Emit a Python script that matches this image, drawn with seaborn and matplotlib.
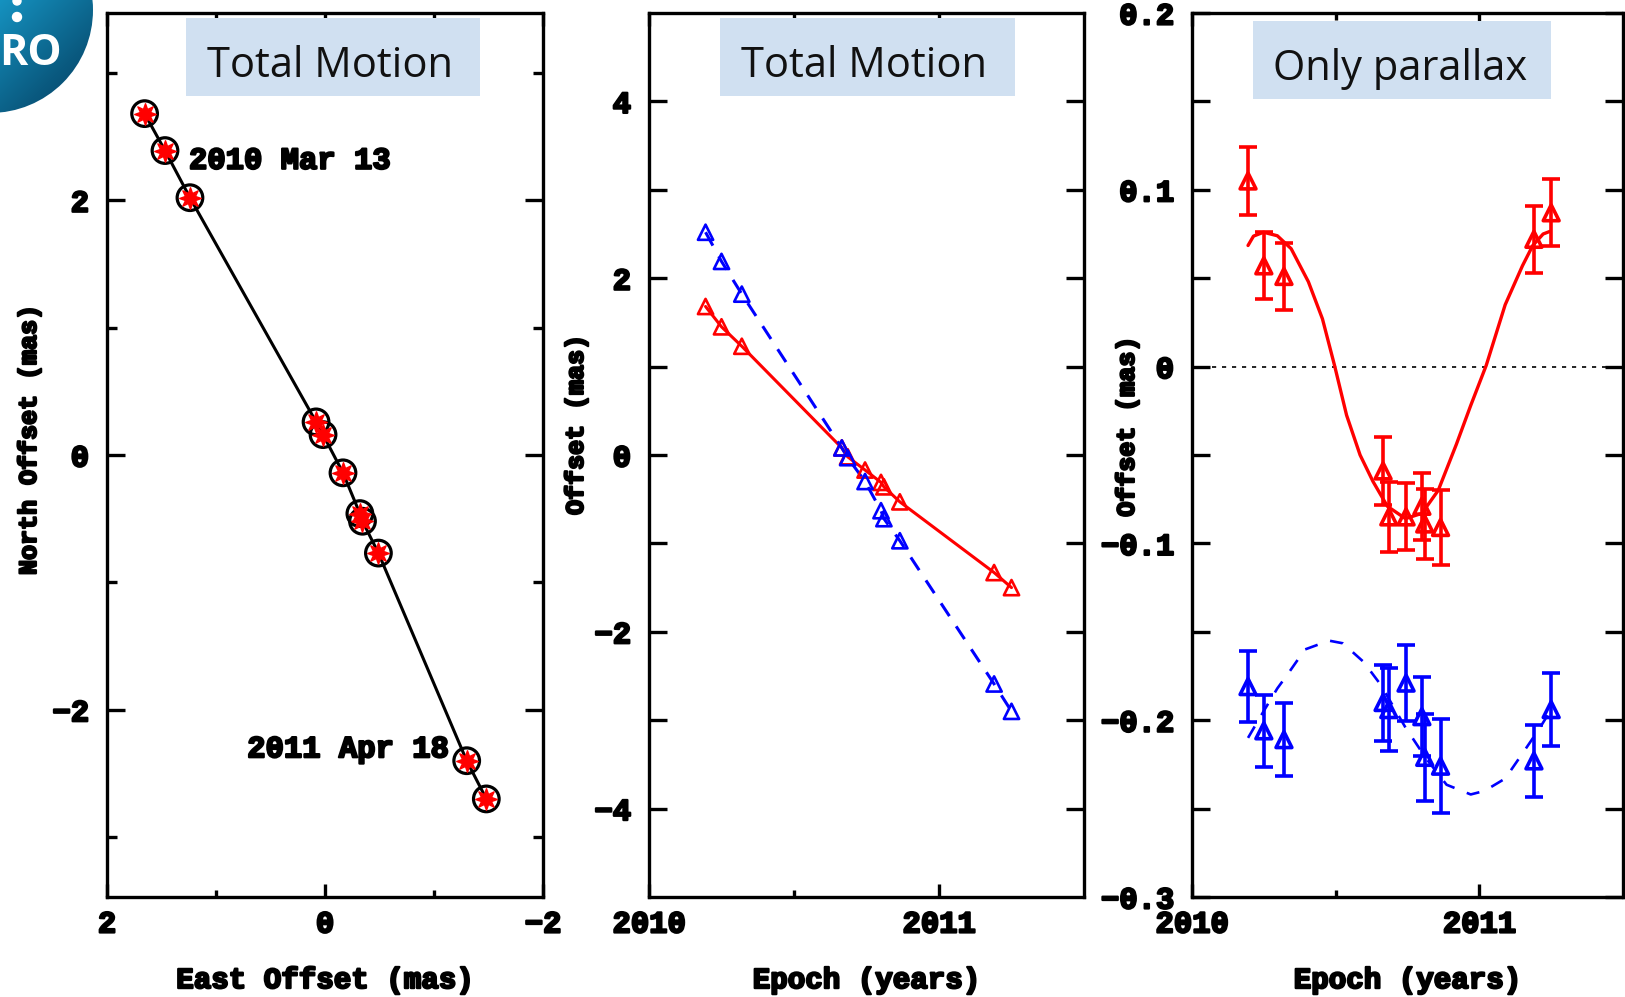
import numpy as np
import pandas as pd
import matplotlib
matplotlib.use('Agg')
import matplotlib.pyplot as plt
import matplotlib.patheffects as pe
from matplotlib.patches import Rectangle, Circle
import seaborn as sns

# epochs of the observations (years)
epochs = [2010.195, 2010.25, 2010.32, 2010.665, 2010.685, 2010.745,
          2010.80, 2010.81, 2010.865, 2011.19, 2011.25]

# panel 1: positions on the sky (mas)
east_off = [1.655, 1.468, 1.239, 0.082, 0.018, -0.165, -0.32, -0.344, -0.49, -1.30, -1.48]
north_off = [2.68, 2.39, 2.02, 0.26, 0.16, -0.14, -0.46, -0.52, -0.77, -2.40, -2.70]

# panel 2: total motion vs time (mas)
east_total = [1.68, 1.45, 1.23, 0.08, -0.02, -0.17, -0.31, -0.36, -0.53, -1.33, -1.50]
north_total = [2.52, 2.19, 1.82, 0.08, -0.03, -0.30, -0.63, -0.72, -0.97, -2.59, -2.90]

# panel 3: parallax only (mas) with errors
east_par = [0.105, 0.057, 0.051, -0.059, -0.085, -0.085, -0.079, -0.089, -0.091, 0.072, 0.087]
east_err = [0.019, 0.019, 0.019, 0.019, 0.020, 0.019, 0.019, 0.020, 0.021, 0.019, 0.019]
north_par = [-0.181, -0.206, -0.211, -0.190, -0.194, -0.179, -0.198, -0.221, -0.226, -0.223, -0.194]
north_err = [0.020, 0.0205, 0.0205, 0.0215, 0.0235, 0.0215, 0.0225, 0.0245, 0.0265, 0.0205, 0.0205]

# parallax model curves
model_t_east = [2010.195, 2010.214, 2010.249, 2010.297, 2010.345, 2010.405, 2010.454, 2010.496,
                2010.538, 2010.585, 2010.63, 2010.68, 2010.743, 2010.80, 2010.857, 2010.92,
                2010.97, 2011.024, 2011.09, 2011.15, 2011.186, 2011.222, 2011.246]
model_east = [0.0685, 0.0738, 0.076, 0.074, 0.0667, 0.048, 0.027, 0.0007,
              -0.0275, -0.050, -0.065, -0.079, -0.086, -0.083, -0.070, -0.044,
              -0.022, 0.0007, 0.035, 0.057, 0.0685, 0.075, 0.0765]
model_t_north = [2010.195, 2010.249, 2010.297, 2010.333, 2010.393, 2010.477, 2010.525, 2010.597,
                 2010.657, 2010.741, 2010.814, 2010.886, 2010.97, 2011.018, 2011.09, 2011.162,
                 2011.21, 2011.246]
model_north = [-0.210, -0.195, -0.182, -0.174, -0.160, -0.155, -0.1565, -0.167,
               -0.180, -0.2036, -0.2215, -0.2365, -0.242, -0.240, -0.233, -0.216,
               -0.2045, -0.195]

# tick labels
p1_ticks = [2, 0, -2]
p1_labels = ['2', '0', '\u22122']
p2_yticks = [4, 2, 0, -2, -4]
p2_ylabels = ['4', '2', '0', '\u22122', '\u22124']
year_ticks = [2010, 2011]
year_labels = ['2010', '2011']
p3_yticks = [0.2, 0.1, 0, -0.1, -0.2, -0.3]
p3_ylabels = ['0.2', '0.1', '0', '\u22120.1', '\u22120.2', '\u22120.3']
titles = ['Total Motion', 'Total Motion', 'Only parallax']

sns.set_style('ticks')
plt.rcParams['font.family'] = ['Liberation Mono', 'DejaVu Sans']
plt.rcParams['font.weight'] = 'bold'
plt.rcParams['axes.linewidth'] = 2.4
plt.rcParams['axes.edgecolor'] = 'black'
plt.rcParams['text.color'] = 'black'
plt.rcParams['axes.labelcolor'] = 'black'
plt.rcParams['xtick.color'] = 'black'
plt.rcParams['ytick.color'] = 'black'

heavy = [pe.withStroke(linewidth=1.6, foreground='black')]

W, H = 1625, 997
fig = plt.figure(figsize=(W / 100, H / 100), dpi=100)


def px_axes(l, r, t, b):
    return fig.add_axes([l / W, 1 - b / H, (r - l) / W, (b - t) / H])


ax1 = px_axes(107, 543, 13, 897)
ax2 = px_axes(649, 1084, 13, 897)
ax3 = px_axes(1192, 1623, 13, 897)


def style_axes(ax, ymin_len):
    ax.tick_params(which='both', direction='in', top=True, right=True,
                   width=2.4, colors='black', labelsize=22)
    ax.tick_params(axis='x', which='major', length=9.5, pad=9)
    ax.tick_params(axis='x', which='minor', length=5)
    ax.tick_params(axis='y', which='major', length=13, pad=13)
    ax.tick_params(axis='y', which='minor', length=ymin_len)
    for sp in ax.spines.values():
        sp.set_visible(True)
        sp.set_linewidth(2.4)


# ---- panel 1: sky track
sns.lineplot(x=east_off, y=north_off, sort=False, estimator=None,
             color='black', lw=2.2, ax=ax1)
sns.scatterplot(x=east_off, y=north_off, marker='o', s=340, facecolor='none',
                edgecolor='black', linewidth=2.3, ax=ax1, zorder=3)
sns.scatterplot(x=east_off, y=north_off, marker=(8, 1, 0), s=240, color='red',
                edgecolor='red', linewidth=1.0, ax=ax1, zorder=4)
ax1.set_xlim(2, -2)
ax1.set_ylim(-3.47, 3.47)
ax1.set_xticks(p1_ticks, p1_labels)
ax1.set_xticks([1, -1], minor=True)
ax1.set_yticks(p1_ticks, p1_labels)
ax1.set_yticks([3, 1, -1, -3], minor=True)
style_axes(ax1, 7)
ax1.set_xlabel('East Offset (mas)', fontsize=21, fontweight='bold')
ax1.set_ylabel('North Offset (mas)', fontsize=18, fontweight='bold')
ann1 = ax1.text(1.248, 2.31, '2010 Mar 13', ha='left', va='center', fontsize=22, fontweight='bold')
ann2 = ax1.text(-1.128, -2.31, '2011 Apr 18', ha='right', va='center', fontsize=22, fontweight='bold')

# ---- panel 2: total motion vs time
df2 = pd.DataFrame({'epoch': epochs * 2,
                    'offset': east_total + north_total,
                    'coord': ['East'] * len(epochs) + ['North'] * len(epochs)})
pal = {'East': 'red', 'North': 'blue'}
sns.lineplot(data=df2, x='epoch', y='offset', hue='coord', style='coord', palette=pal,
             dashes={'East': '', 'North': (5, 4)}, sort=False, estimator=None,
             lw=2.2, legend=False, ax=ax2)
for name, col in pal.items():
    sub = df2[df2['coord'] == name]
    sns.scatterplot(x=sub['epoch'], y=sub['offset'], marker='^', s=120, facecolor='none',
                    edgecolor=col, linewidth=1.9, ax=ax2, zorder=3)
ax2.set_xlim(2010, 2011.5)
ax2.set_ylim(-5, 5)
ax2.set_xticks(year_ticks, year_labels)
ax2.set_xticks([2010.5], minor=True)
ax2.set_yticks(p2_yticks, p2_ylabels)
ax2.set_yticks([3, 1, -1, -3], minor=True)
style_axes(ax2, 13)
ax2.set_xlabel('Epoch (years)', fontsize=21, fontweight='bold')
ax2.set_ylabel('Offset (mas)', fontsize=18, fontweight='bold')

# ---- panel 3: parallax only
ax3.axhline(0, color='black', lw=1.2, ls=(0, (2.5, 3.5)), zorder=1)
sns.lineplot(x=model_t_east, y=model_east, sort=False, estimator=None,
             color='red', lw=2.4, ax=ax3)
sns.lineplot(x=model_t_north, y=model_north, sort=False, estimator=None,
             color='blue', lw=1.9, linestyle=(0, (5, 5)), ax=ax3)
for vals, errs, col in [(east_par, east_err, 'red'), (north_par, north_err, 'blue')]:
    ax3.errorbar(epochs, vals, yerr=errs, fmt='none', ecolor=col, elinewidth=2.6,
                 capsize=6.2, capthick=2.6, zorder=3)
    sns.scatterplot(x=epochs, y=vals, marker='^', s=130, facecolor='none',
                    edgecolor=col, linewidth=2.6, ax=ax3, zorder=4)
ax3.set_xlim(2010, 2011.5)
ax3.set_ylim(-0.3, 0.2)
ax3.set_xticks(year_ticks, year_labels)
ax3.set_xticks([2010.5], minor=True)
ax3.set_yticks(p3_yticks, p3_ylabels)
ax3.set_yticks([0.15, 0.05, -0.05, -0.15, -0.25], minor=True)
style_axes(ax3, 13)
ax3.set_xlabel('Epoch (years)', fontsize=21, fontweight='bold')
ax3.set_ylabel('Offset (mas)', fontsize=18, fontweight='bold')

# label placement and heavier PGPLOT-like strokes
for ax, ylx, yly in [(ax1, -0.179, 0.517), (ax2, -0.168, 0.534), (ax3, -0.151, 0.532)]:
    ax.xaxis.set_label_coords(0.5, -0.094)
    ax.xaxis.label.set_va('center')
    ax.yaxis.set_label_coords(ylx, yly)
    ax.yaxis.label.set_va('center')
    for t in ax.get_xticklabels() + ax.get_yticklabels() + [ax.xaxis.label, ax.yaxis.label]:
        t.set_path_effects(heavy)
for t in [ann1, ann2]:
    t.set_path_effects(heavy)

# title boxes
boxes = [(ax1, 0.181, 0.856, 0.906, 0.994, 0.511, 0.928),
         (ax2, 0.163, 0.841, 0.906, 0.994, 0.494, 0.928),
         (ax3, 0.142, 0.833, 0.903, 0.991, 0.483, 0.924)]
for (ax, x0, x1, y0, y1, tx, ty), title in zip(boxes, titles):
    ax.add_patch(Rectangle((x0, y0), x1 - x0, y1 - y0, transform=ax.transAxes,
                           facecolor='#D0E0F1', edgecolor='none', zorder=5))
    ax.text(tx, ty, title, transform=ax.transAxes, ha='center', va='baseline',
            fontsize=30, fontweight='normal', family=['Open Sans', 'DejaVu Sans'],
            color='#111111', zorder=6)

# logo fragment in the top-left corner
lax = px_axes(0, 130, 0, 130)
lax.set_xlim(0, 130)
lax.set_ylim(130, 0)
lax.axis('off')
gx, gy = np.meshgrid(np.linspace(0, 1, 200), np.linspace(0, 1, 200))
grad = (gx + gy) / 2
cmap = matplotlib.colors.LinearSegmentedColormap.from_list('logo', ['#1592C0', '#0A5A80', '#03284A'])
img = lax.imshow(grad, cmap=cmap, extent=(0, 130, 130, 0), aspect='auto')
img.set_clip_path(Circle((-10, 10), 103, transform=lax.transData))
lax.add_patch(Circle((17, 17), 4.5, color='white'))
lax.add_patch(Circle((17, 1), 4, color='white'))
lax.text(62, 65, 'RO', ha='right', va='baseline', color='white', fontsize=31,
         fontweight='bold', family=['Open Sans', 'DejaVu Sans'])

fig.savefig('out.png', dpi=100)
